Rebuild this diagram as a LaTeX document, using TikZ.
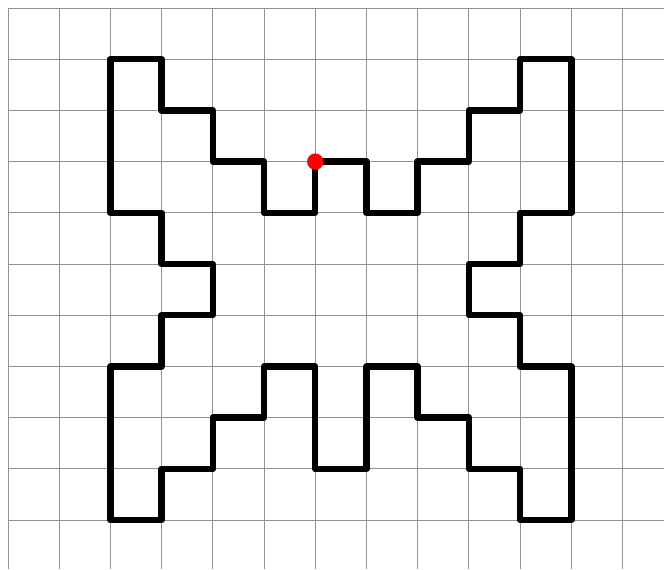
\documentclass[tikz,border=0pt]{standalone}
\usepackage{tikz}

\begin{document}
\begin{tikzpicture}[x=1cm, y=-1cm]
        % --- 1. Parameters ---
        \def\gridW{12.81}
        \def\gridH{10.96}
        \def\penW{3.6pt}
        \useasboundingbox (-0.156,-0.156) rectangle (\gridW,\gridH);

        % --- 2. Draw Grid ---
        \foreach \i in {0,...,12}
            \draw[gray!85, line width=0.5pt] (\i,0) -- (\i,\gridH);
        \foreach \j in {0,...,10}
            \draw[gray!85, line width=0.5pt] (0,\j) -- (\gridW,\j);

        % --- 3. Draw Figure (closed path on the grid) ---
        \coordinate (Start) at (6,3);
        \draw[line width=\penW, line join=round] (Start)
            -- (7,3) -- (7,4) -- (8,4) -- (8,3) -- (9,3) -- (9,2) -- (10,2)
            -- (10,1) -- (11,1) -- (11,4) -- (10,4) -- (10,5) -- (9,5)
            -- (9,6) -- (10,6) -- (10,7) -- (11,7) -- (11,10) -- (10,10)
            -- (10,9) -- (9,9) -- (9,8) -- (8,8) -- (8,7) -- (7,7)
            -- (7,9) -- (6,9) -- (6,7) -- (5,7) -- (5,8) -- (4,8)
            -- (4,9) -- (3,9) -- (3,10) -- (2,10) -- (2,7) -- (3,7)
            -- (3,6) -- (4,6) -- (4,5) -- (3,5) -- (3,4) -- (2,4)
            -- (2,1) -- (3,1) -- (3,2) -- (4,2) -- (4,3) -- (5,3)
            -- (5,4) -- (6,4) -- cycle;

        % --- 4. Starting point ---
        \fill[red] (Start) circle (0.16);
\end{tikzpicture}
\end{document}
